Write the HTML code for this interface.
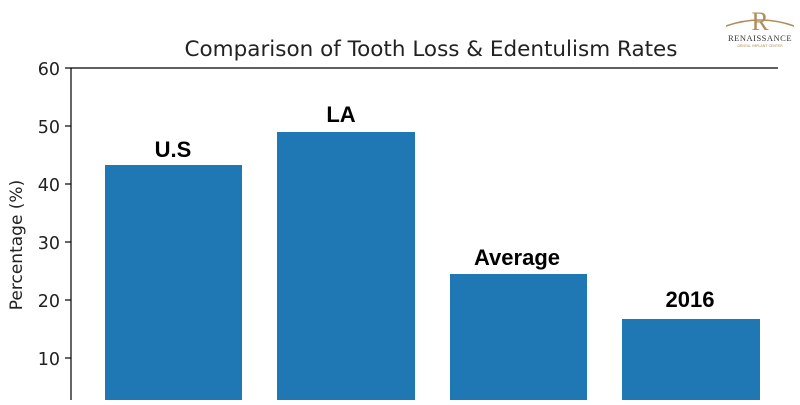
<!DOCTYPE html>
<html><head><style>body{margin:0;background:#fff}</style></head><body>
<svg width="800" height="400" xmlns="http://www.w3.org/2000/svg" font-family="DejaVu Sans, Liberation Sans, sans-serif">
<rect width="800" height="400" fill="#fff"/>
<text x="431" y="56" font-size="21.5" text-anchor="middle" fill="#222">Comparison of Tooth Loss &amp; Edentulism Rates</text>
<line x1="71" y1="68" x2="778" y2="68" stroke="#000" stroke-width="1.2"/>
<line x1="71" y1="68" x2="71" y2="400" stroke="#000" stroke-width="1.2"/>
<g stroke="#000" stroke-width="1.2">
<line x1="65" y1="68" x2="71" y2="68"/><line x1="65" y1="126" x2="71" y2="126"/><line x1="65" y1="184" x2="71" y2="184"/><line x1="65" y1="242" x2="71" y2="242"/><line x1="65" y1="300" x2="71" y2="300"/><line x1="65" y1="358" x2="71" y2="358"/></g>
<g font-size="17.5" text-anchor="end" fill="#222">
<text x="60" y="75">60</text><text x="60" y="133">50</text><text x="60" y="191">40</text><text x="60" y="249">30</text><text x="60" y="307">20</text><text x="60" y="365">10</text></g>
<text transform="translate(22,245) rotate(-90)" font-size="17" text-anchor="middle" fill="#222">Percentage (%)</text>
<g fill="#1f77b4">
<rect x="105" y="165" width="137" height="240"/>
<rect x="277" y="132" width="138" height="270"/>
<rect x="450" y="274" width="137" height="130"/>
<rect x="622" y="319" width="138" height="90"/></g>
<g font-size="22" font-weight="bold" text-anchor="middle" fill="#000" font-family="Liberation Sans, sans-serif">
<text x="173" y="157">U.S</text><text x="341" y="122">LA</text><text x="517" y="265">Average</text><text x="690" y="307">2016</text></g>
<path d="M726 26 Q760 14 794 26" stroke="#b08d5a" stroke-width="1.5" fill="none"/>
<text x="760" y="30" font-size="26" text-anchor="middle" fill="#b08d5a" font-family="Liberation Serif, serif">R</text>
<text x="760" y="41" font-size="8.5" text-anchor="middle" fill="#333" font-family="Liberation Serif, serif" letter-spacing="0.5">RENAISSANCE</text>
<text x="760" y="47" font-size="3.5" text-anchor="middle" fill="#b08d5a">DENTAL IMPLANT CENTER</text>
</svg>
</body></html>
